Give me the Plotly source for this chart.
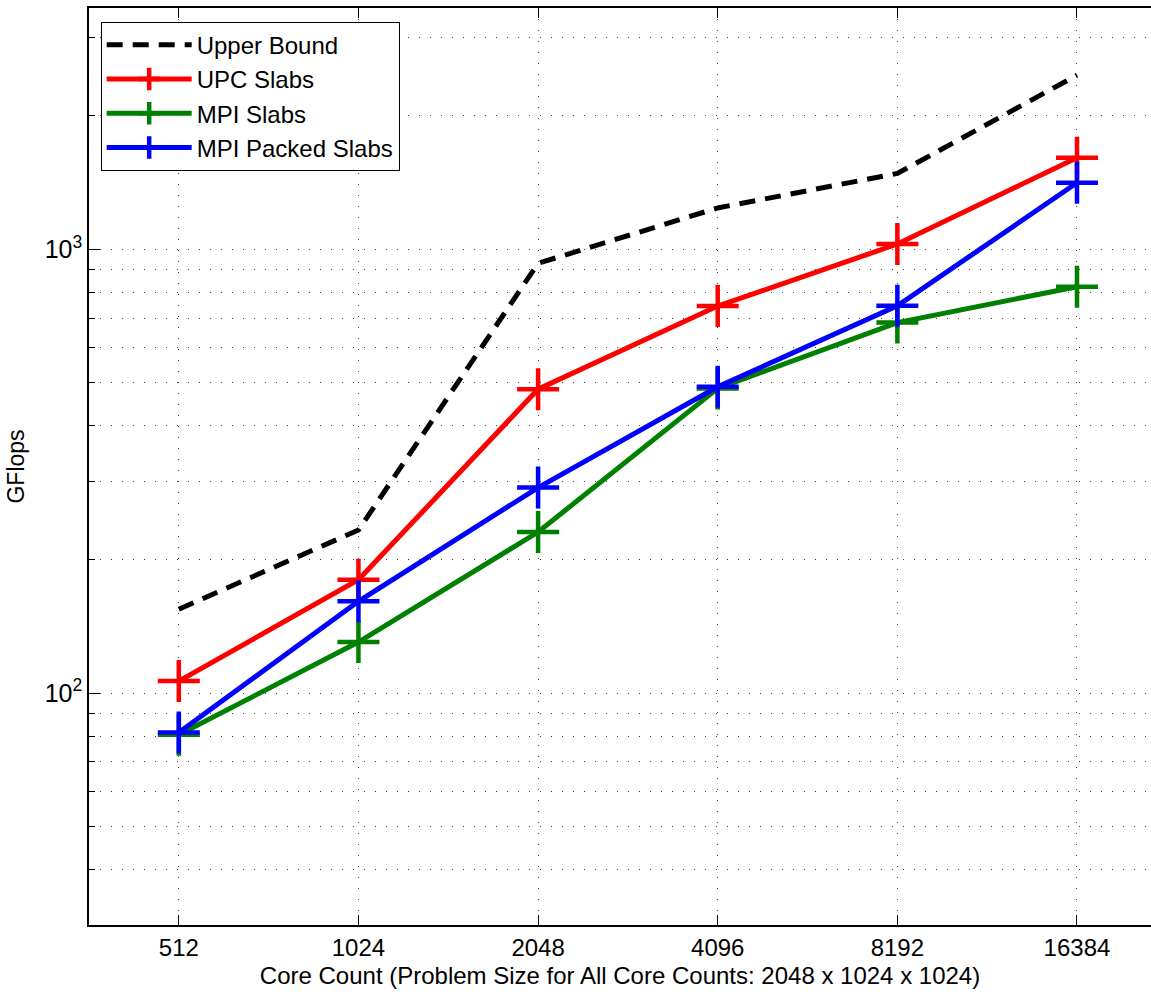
import numpy as np
import plotly.graph_objects as go

cores = [512, 1024, 2048, 4096, 8192, 16384]
core_labels = ["512", "1024", "2048", "4096", "8192", "16384"]
upper_bound = [154.5, 233, 930, 1240, 1483, 2470]
upc_slabs = [106.4, 180, 484, 745, 1028, 1609]
mpi_slabs = [80.5, 130.3, 230.6, 486, 684, 823.6]
mpi_packed = [81.5, 161, 290.5, 490, 746, 1413]

y_major = [100, 1000]
y_major_text = ["10<sup>2</sup>", "10<sup>3</sup>"]
y_minor = [30, 40, 50, 60, 70, 80, 90, 200, 300, 400, 500, 600, 700, 800, 900, 2000, 3000]

FONT = "Liberation Sans, Arial, Helvetica, sans-serif"
fig = go.Figure()

fig.add_trace(go.Scatter(x=cores, y=upper_bound, mode="lines", name="Upper Bound",
                         line=dict(color="black", width=5, dash="16px,10px")))
for name, vals, col in [("UPC Slabs", upc_slabs, "#FF0000"),
                        ("MPI Slabs", mpi_slabs, "#008000"),
                        ("MPI Packed Slabs", mpi_packed, "#0000FF")]:
    fig.add_trace(go.Scatter(x=cores, y=vals, mode="lines+markers", name=name,
                             line=dict(color=col, width=5),
                             marker=dict(symbol="cross-thin", size=30, color=col,
                                         line=dict(width=4.5, color=col))))

grid_dash = "1px,10px"
x_left = np.log10(cores[0]) - 0.5 * np.log10(2)
x_right = np.log10(cores[-1]) + 0.412 * np.log10(2)

fig.update_layout(
    width=1151, height=994,
    margin=dict(l=89, r=0, t=8, b=69),
    paper_bgcolor="white", plot_bgcolor="white",
    font=dict(family=FONT, size=23, color="black"),
    showlegend=True,
    legend=dict(x=0.011, y=0.985, xanchor="left", yanchor="top",
                bgcolor="white", bordercolor="black", borderwidth=1,
                font=dict(family=FONT, size=24, color="black"),
                tracegroupgap=0, itemwidth=85),
    xaxis=dict(type="log", range=[x_left, x_right],
               tickvals=cores, ticktext=core_labels,
               ticks="inside", ticklen=10, tickcolor="black", tickwidth=1,
               tickfont=dict(size=24),
               showline=True, linecolor="black", linewidth=1.5, mirror="ticks",
               showgrid=True, gridcolor="#444", gridwidth=1, griddash=grid_dash,
               zeroline=False,
               title=dict(text="Core Count (Problem Size for All Core Counts: 2048 x 1024 x 1024)",
                          standoff=8, font=dict(size=24))),
    yaxis=dict(type="log", range=[np.log10(30), np.log10(3500)],
               tickvals=y_major, ticktext=y_major_text,
               ticks="inside", ticklen=11, tickcolor="black", tickwidth=1,
               tickfont=dict(size=25),
               showline=True, linecolor="black", linewidth=1.5, mirror=False,
               showgrid=True, gridcolor="#444", gridwidth=1, griddash=grid_dash,
               zeroline=False,
               minor=dict(tickvals=y_minor, ticks="inside", ticklen=6, tickcolor="black",
                          showgrid=True, gridcolor="#444", gridwidth=1, griddash=grid_dash),
               title=dict(text="GFlops", standoff=14, font=dict(size=23))),
)

fig.write_html("out.html")
